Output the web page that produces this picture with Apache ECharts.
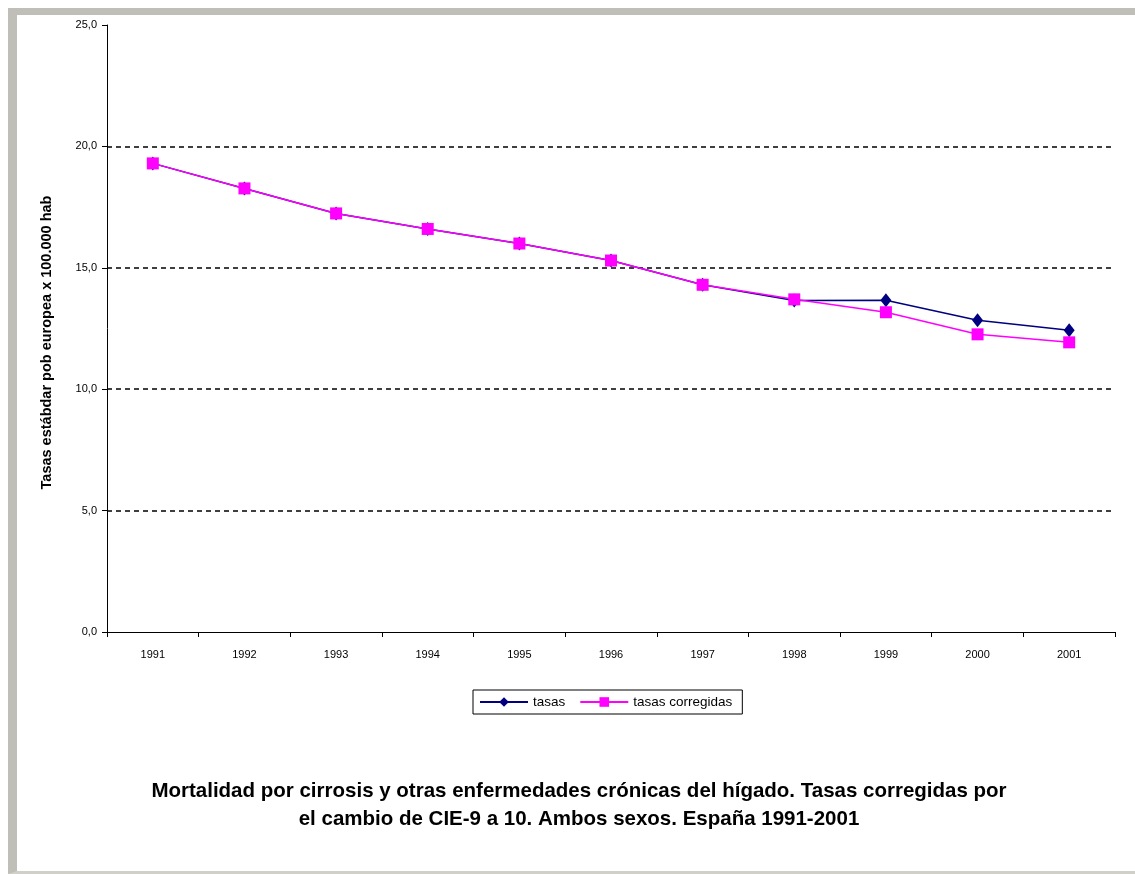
<!DOCTYPE html>
<html>
<head>
<meta charset="utf-8">
<script src="https://cdn.jsdelivr.net/npm/echarts@6/dist/echarts.min.js"></script>
<style>
html,body{margin:0;padding:0;background:#fff;}
#frame{position:absolute;left:8px;top:8px;width:1127px;height:866px;box-sizing:border-box;
  border-top:7px solid #bfbfb8;border-left:9px solid #bfbfb8;border-bottom:3px solid #d0d0c8;}
#main{position:absolute;left:0;top:0;width:1135px;height:874px;}
</style>
</head>
<body>
<div id="frame"></div>
<div id="main"></div>
<script>
var years=['1991','1992','1993','1994','1995','1996','1997','1998','1999','2000','2001'];
var tasas=[19.3,18.27,17.24,16.6,16.0,15.3,14.3,13.65,13.66,12.84,12.43];
var tasasCorregidas=[19.3,18.27,17.24,16.6,16.0,15.3,14.3,13.7,13.17,12.26,11.93];
var yTicks=[0,5,10,15,20,25];

var myChart=echarts.init(document.getElementById('main'));
var font='"Liberation Sans", Arial, sans-serif';
var option={
  animation:false,
  title:{
    text:'Mortalidad por cirrosis y otras enfermedades crónicas del hígado. Tasas corregidas por\nel cambio de CIE-9 a 10. Ambos sexos. España 1991-2001',
    left:574,top:772,textAlign:'center',
    textStyle:{fontFamily:font,fontSize:20.5,fontWeight:'bold',color:'#000',lineHeight:28}
  },
  legend:{
    data:['tasas','tasas corregidas'],
    left:473,top:690,
    padding:[5,10,5,6],
    borderColor:'#000',borderWidth:1,
    itemWidth:48,itemHeight:12,itemGap:14,
    textStyle:{fontFamily:font,fontSize:13.5,color:'#000'}
  },
  grid:{left:107,right:20,top:25,bottom:242},
  xAxis:{
    type:'category',data:years,boundaryGap:true,
    axisLine:{lineStyle:{color:'#000',width:1}},
    axisTick:{show:true,length:5,lineStyle:{color:'#000'}},
    axisLabel:{fontFamily:font,fontSize:11,color:'#000',margin:17}
  },
  yAxis:{
    type:'value',min:0,max:25,interval:5,
    name:'Tasas estábdar pob europea x 100.000 hab',
    nameLocation:'middle',nameGap:53,nameRotate:90,
    nameTextStyle:{fontFamily:font,fontSize:14.5,fontWeight:'bold',color:'#000',padding:[0,28,0,0]},
    axisLine:{show:true,lineStyle:{color:'#000',width:1}},
    axisTick:{show:true,length:5,lineStyle:{color:'#000'}},
    axisLabel:{fontFamily:font,fontSize:11,color:'#000',margin:10,
      formatter:function(v){return v.toFixed(1).replace('.',',');}},
    splitLine:{show:true,lineStyle:{
      color:yTicks.map(function(t){return (t==0||t==25)?'rgba(0,0,0,0)':'#000';}),
      type:[5,4],width:1.5}}
  },
  series:[
    {name:'tasas',type:'line',data:tasas,symbol:'diamond',symbolSize:[11,14],
      itemStyle:{color:'#000080'},lineStyle:{color:'#000080',width:1.5}},
    {name:'tasas corregidas',type:'line',data:tasasCorregidas,symbol:'rect',symbolSize:12,
      itemStyle:{color:'#ff00ff'},lineStyle:{color:'#ff00ff',width:1.5}}
  ]
};
myChart.setOption(option);
</script>
</body>
</html>
